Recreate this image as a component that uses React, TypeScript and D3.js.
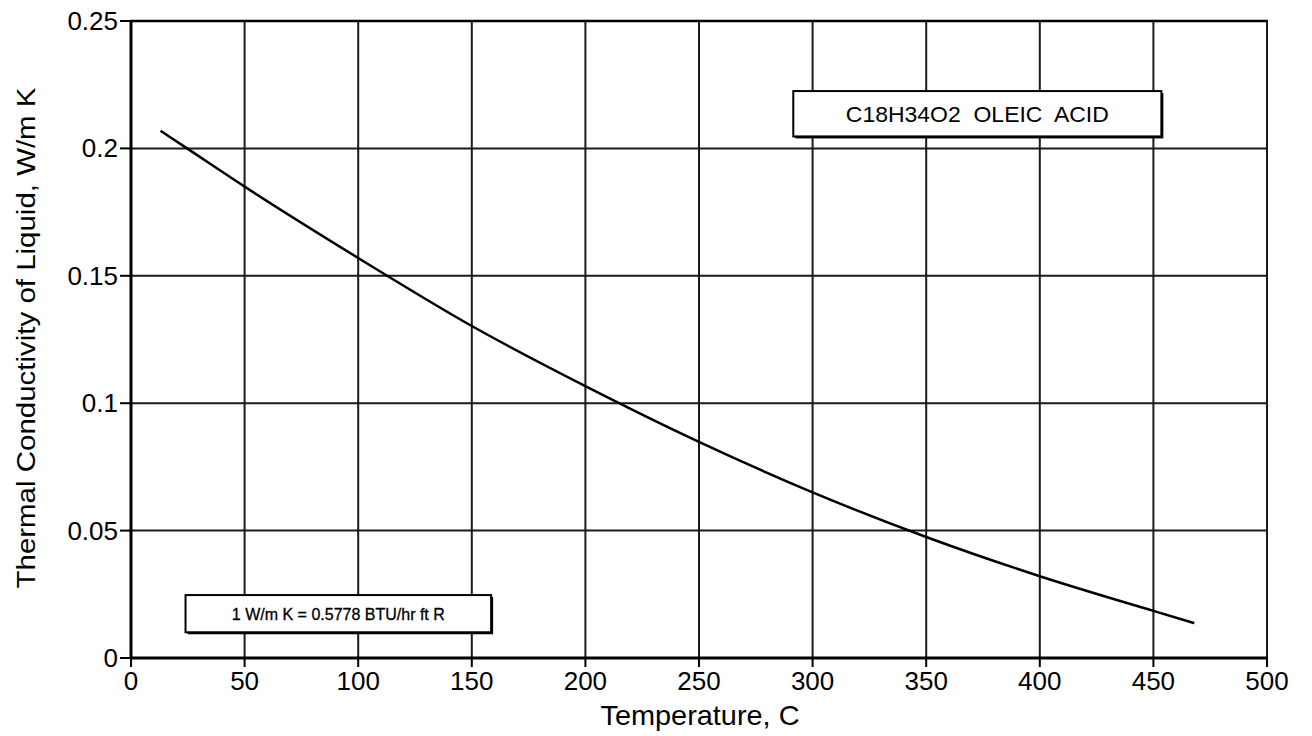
import React from "react";
import * as d3 from "d3";

const temperatures = [13, 25, 50, 100, 150, 200, 250, 300, 350, 400, 450, 468];
const conductivity = [0.2069, 0.1998, 0.185, 0.157, 0.1303, 0.1067, 0.0848, 0.065, 0.0475, 0.0321, 0.0185, 0.0137];
const xTicks = [0, 50, 100, 150, 200, 250, 300, 350, 400, 450, 500];
const yTicks = [0, 0.05, 0.1, 0.15, 0.2, 0.25];
const yTickLabels = ["0", "0.05", "0.1", "0.15", "0.2", "0.25"];
const titleText = "C18H34O2  OLEIC  ACID";
const noteText = "1 W/m K = 0.5778 BTU/hr ft R";
const xTitle = "Temperature, C";
const yTitle = "Thermal Conductivity of Liquid, W/m K";

const W = 1312;
const H = 736;
const left = 131;
const right = 1267;
const top = 21;
const bottom = 658;
const font = "'Liberation Sans', Arial, Helvetica, sans-serif";

export default function App() {
  const x = d3.scaleLinear().domain([0, 500]).range([left, right]);
  const y = d3.scaleLinear().domain([0, 0.25]).range([bottom, top]);
  const pts = temperatures.map((t, i) => [t, conductivity[i]] as [number, number]);
  const line = d3
    .line<[number, number]>()
    .x((d) => x(d[0]))
    .y((d) => y(d[1]))
    .curve(d3.curveMonotoneX);

  const box1 = { x0: x(291.5), x1: x(453.5), y0: y(0.2177 + 0.0048), y1: y(0.2047) };
  const box2 = { x0: x(24), x1: x(158.5), y0: y(0.0247), y1: y(0.0101) };

  return (
    <div style={{ position: "absolute", left: 0, top: 0 }}>
      <svg width={W} height={H} style={{ display: "block", background: "#fff" }}>
        {/* grid */}
        {xTicks.map((t) => (
          <line key={"gx" + t} x1={x(t)} x2={x(t)} y1={top} y2={bottom} stroke="#1a1a1a" strokeWidth={2} />
        ))}
        {yTicks.map((t) => (
          <line key={"gy" + t} x1={left} x2={right} y1={y(t)} y2={y(t)} stroke="#1a1a1a" strokeWidth={2} />
        ))}
        {/* axes */}
        <line x1={left} x2={left} y1={top - 1} y2={bottom + 1} stroke="#000" strokeWidth={3} />
        <line x1={left - 1} x2={right + 1} y1={bottom} y2={bottom} stroke="#000" strokeWidth={3} />
        <line x1={left - 1} x2={right + 1} y1={top} y2={top} stroke="#000" strokeWidth={2.5} />
        {/* ticks */}
        {xTicks.map((t) => (
          <g key={"tx" + t}>
            <line x1={x(t)} x2={x(t)} y1={bottom} y2={bottom + 9} stroke="#000" strokeWidth={2} />
            <text x={x(t)} y={690} textAnchor="middle" fontFamily={font} fontSize={26} fill="#000">
              {t}
            </text>
          </g>
        ))}
        {yTicks.map((t, i) => (
          <g key={"ty" + t}>
            <line x1={left - 11} x2={left} y1={y(t)} y2={y(t)} stroke="#000" strokeWidth={2} />
            <text x={left - 13} y={y(t) + 9} textAnchor="end" fontFamily={font} fontSize={26} fill="#000">
              {yTickLabels[i]}
            </text>
          </g>
        ))}
        {/* curve */}
        <path d={line(pts) || ""} fill="none" stroke="#000" strokeWidth={2.5} />
        {/* title box */}
        <rect x={box1.x0 + 2} y={box1.y0 + 2} width={box1.x1 - box1.x0} height={box1.y1 - box1.y0} fill="#000" />
        <rect x={box1.x0} y={box1.y0} width={box1.x1 - box1.x0} height={box1.y1 - box1.y0} fill="#fff" stroke="#000" strokeWidth={2} />
        <text
          x={(box1.x0 + box1.x1) / 2}
          y={(box1.y0 + box1.y1) / 2 + 8}
          textAnchor="middle"
          fontFamily={font}
          fontSize={22}
          fill="#000"
          style={{ whiteSpace: "pre" }}
          textLength={263}
          lengthAdjust="spacingAndGlyphs"
        >
          {titleText}
        </text>
        {/* note box */}
        <rect x={box2.x0 + 2} y={box2.y0 + 2} width={box2.x1 - box2.x0} height={box2.y1 - box2.y0} fill="#000" />
        <rect x={box2.x0} y={box2.y0} width={box2.x1 - box2.x0} height={box2.y1 - box2.y0} fill="#fff" stroke="#000" strokeWidth={2} />
        <text
          x={(box2.x0 + box2.x1) / 2}
          y={(box2.y0 + box2.y1) / 2 + 6}
          textAnchor="middle"
          fontFamily={font}
          fontSize={16}
          fill="#000"
          stroke="#000"
          strokeWidth={0.3}
          textLength={213}
          lengthAdjust="spacingAndGlyphs"
        >
          {noteText}
        </text>
        {/* axis titles */}
        <text x={700} y={725} textAnchor="middle" fontFamily={font} fontSize={28} fill="#000" textLength={199} lengthAdjust="spacingAndGlyphs">
          {xTitle}
        </text>
        <text
          transform={`translate(35, 338) rotate(-90)`}
          textAnchor="middle"
          fontFamily={font}
          fontSize={26}
          fill="#000"
          textLength={501}
          lengthAdjust="spacingAndGlyphs"
        >
          {yTitle}
        </text>
      </svg>
    </div>
  );
}
